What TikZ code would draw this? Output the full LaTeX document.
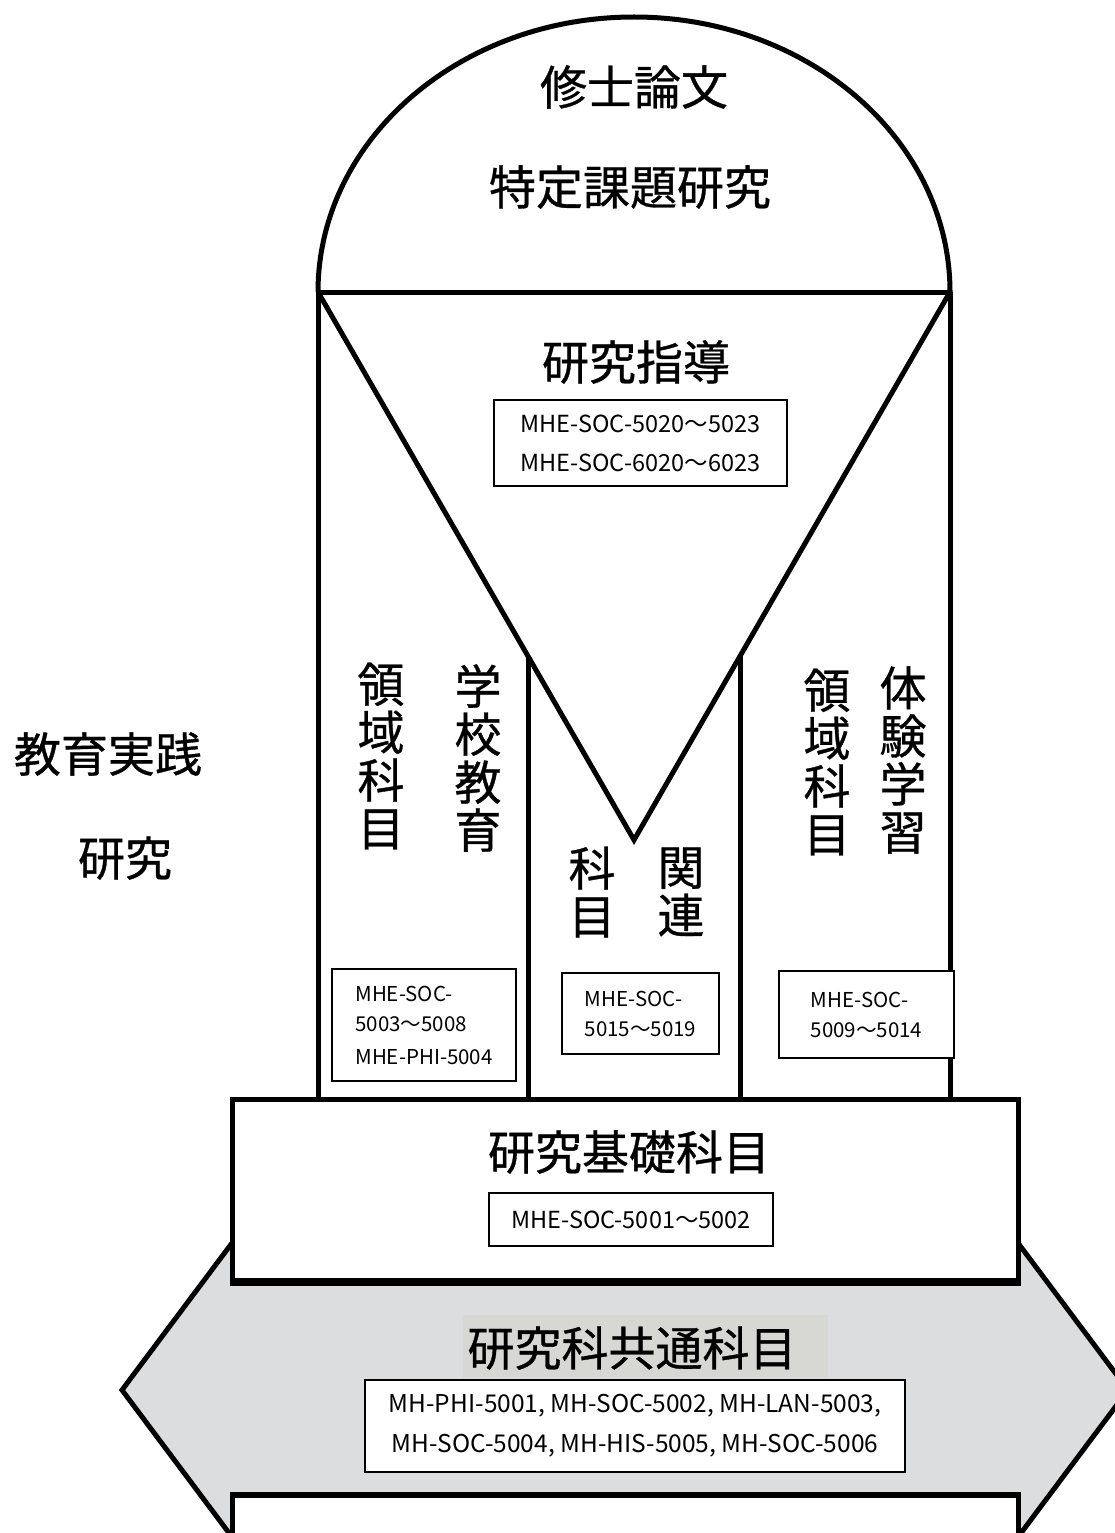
\documentclass[tikz,border=0pt]{standalone}
\usepackage{fontspec}
\setmainfont{Noto Sans CJK JP}
\newfontfamily\labelfont{Noto Sans CJK JP}[FakeBold=0.7]
\definecolor{arrowgray}{RGB}{220,221,223}
\definecolor{labelgray}{RGB}{215,216,212}
\begin{document}
\begin{tikzpicture}[x=1pt,y=-1pt,line join=miter,
  big/.style={font=\labelfont\fontsize{47}{50}\selectfont, inner sep=0pt},
  vcol/.style={font=\labelfont\fontsize{47}{48}\selectfont, align=center, inner sep=0pt},
  codebox/.style={draw, line width=1.8pt, fill=white, align=left, inner sep=0pt},
  codetext/.style={font=\fontsize{23.5}{39}\selectfont},
  smallcode/.style={font=\fontsize{20.5}{30}\selectfont},
  mainline/.style={line width=5pt}]
\useasboundingbox (0,0) rectangle (1115,1533);
\clip (0,0) rectangle (1115,1533);

% double arrow (research-school common subjects)
\draw[mainline, fill=arrowgray] (232,1243) -- (122,1390) -- (232,1537) -- (1018,1537)
  -- (1128,1390) -- (1018,1243) -- cycle;
% lower box (cut off)
\fill[white] (232,1495) rectangle (1018,1560);
\draw[mainline] (232,1560) -- (232,1495) -- (1018,1495) -- (1018,1560);
\draw[line width=6pt] (229.5,1495) -- (1020.5,1495);

% dome
\draw[mainline] (318,292) arc[start angle=180, end angle=360, x radius=316, y radius=275];
\draw[mainline] (318,292) -- (950,292);
% outer columns
\draw[mainline] (318,292) -- (318,1099);
\draw[mainline] (950,292) -- (950,1099);
% inverted triangle
\draw[mainline] (318,292) -- (634,840) -- (950,292);
% inner columns
\draw[mainline] (528,656.2) -- (528,1099);
\draw[mainline] (740,656.2) -- (740,1099);

% base box
\draw[line width=5pt, fill=white] (232,1099) rectangle (1018,1280);
\draw[line width=8pt] (229.5,1282) -- (1020.5,1282);

% label background
\fill[labelgray] (463,1315) rectangle (828,1378);

% texts
\node[big] (thesis) at (634,87) {修士論文};
\node[big] (special) at (630,187) {特定課題研究};
\node[big] (guide) at (636,362) {研究指導};
\node[codebox, codetext, minimum width=293, minimum height=86] (guidecodes) at (640.5,443)
  {MHE-SOC-5020～5023\\MHE-SOC-6020～6023};

\node[vcol] (schoolA) at (381,756) {領\\域\\科\\目};
\node[vcol] (schoolB) at (478,758) {学\\校\\教\\育};
\node[vcol] (relA) at (592,892) {科\\目};
\node[vcol] (relB) at (681,892) {関\\連};
\node[vcol] (expA) at (827,762) {領\\域\\科\\目};
\node[vcol] (expB) at (903,760) {体\\験\\学\\習};

\node[big] (practice) at (108,754) {教育実践};
\node[big] (research) at (125,858) {研究};

\node[codebox, smallcode, minimum width=184, minimum height=112] (schoolcodes) at (424,1025)
  {MHE-SOC-\\5003～5008\\[3pt]MHE-PHI-5004};
\node[codebox, smallcode, minimum width=157, minimum height=81] (relcodes) at (640.5,1013.5)
  {MHE-SOC-\\5015～5019};
\node[codebox, smallcode, minimum width=175, minimum height=87] (expcodes) at (866.5,1014.5)
  {MHE-SOC-\\5009～5014};

\node[big] (basic) at (629,1152) {研究基礎科目};
\node[codebox, codetext, minimum width=284, minimum height=53] (basiccodes) at (631,1219.5)
  {MHE-SOC-5001～5002};

\node[big] (common) at (632,1348) {研究科共通科目};
\node[codebox, font=\fontsize{24.5}{40}\selectfont, align=center, minimum width=540, minimum height=92] (commoncodes) at (635,1426)
  {MH-PHI-5001, MH-SOC-5002, MH-LAN-5003,\\MH-SOC-5004, MH-HIS-5005, MH-SOC-5006};
\end{tikzpicture}
\end{document}
